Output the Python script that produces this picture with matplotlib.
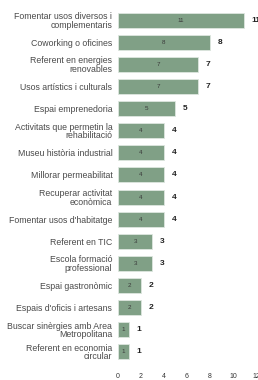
import matplotlib
matplotlib.use('Agg')
import matplotlib.pyplot as plt
import numpy as np

plt.rcParams['font.family'] = ['Liberation Sans', 'DejaVu Sans']

categories = [
    "Fomentar usos diversos i\ncomplementaris",
    "Coworking o oficines",
    "Referent en energies\nrenovables",
    "Usos artístics i culturals",
    "Espai emprenedoria",
    "Activitats que permetin la\nrehabilitació",
    "Museu història industrial",
    "Millorar permeabilitat",
    "Recuperar activitat\neconòmica",
    "Fomentar usos d'habitatge",
    "Referent en TIC",
    "Escola formació\nprofessional",
    "Espai gastronòmic",
    "Espais d'oficis i artesans",
    "Buscar sinèrgies amb Area\nMetropolitana",
    "Referent en economia\ncircular",
]
values = [11, 8, 7, 7, 5, 4, 4, 4, 4, 4, 3, 3, 2, 2, 1, 1]
xticks = [0, 2, 4, 6, 8, 10, 12]

bar_color = "#80a086"
text_color = "#4a4a4a"

fig = plt.figure(figsize=(2.58, 3.8), dpi=100)
ax = fig.add_axes([0.457, 0.045, 0.535, 0.931])

y = np.arange(len(categories))
ax.barh(y, values, height=0.68, color=bar_color, edgecolor="#dde6df", linewidth=0.6)

for yi, v in zip(y, values):
    # small value inside the bar
    ax.text(v / 2, yi, str(v), ha="center", va="center", fontsize=4.5, color="#3a3a3a")
    # bold value after the bar
    ax.text(v + 0.65, yi, str(v), ha="left", va="center", fontsize=6,
            color="#222222", fontweight="bold")

ax.set_yticks(y)
ax.set_yticklabels(categories, fontsize=6.3, color=text_color, linespacing=0.95)
ax.set_ylim(len(categories) - 0.5, -0.5)
ax.set_xlim(0, 12)
ax.set_xticks(xticks)
ax.set_xticklabels([str(t) for t in xticks], fontsize=5, color="#333333")
ax.tick_params(axis="both", length=0, pad=4)
ax.tick_params(axis="x", pad=7)
for s in ax.spines.values():
    s.set_visible(False)

fig.savefig("out.png", dpi=100)
